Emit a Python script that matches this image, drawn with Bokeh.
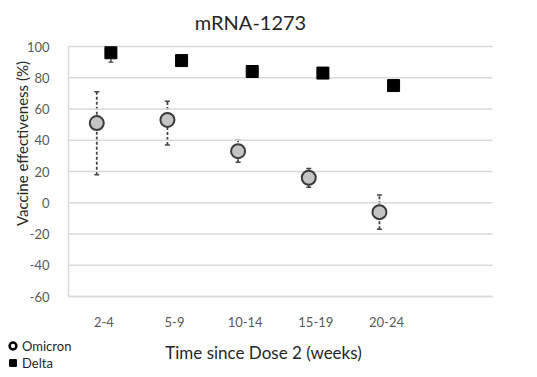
import math
from bokeh.plotting import figure
from bokeh.models import (ColumnDataSource, Whisker, TeeHead, FixedTicker, Range1d,
                          Legend, LegendItem, Label)
from bokeh.embed import file_html
from bokeh.resources import INLINE

categories = ["2-4", "5-9", "10-14", "15-19", "20-24"]
omicron_ve = [51, 53, 33, 16, -6]
omicron_lo = [18, 37, 26, 10, -17]
omicron_hi = [71, 65, 40, 22, 5]
delta_ve = [96, 91, 84, 83, 75]
delta_lo = [90, 89, 82, 81, 73]
delta_hi = [98, 93, 85, 84, 77]
y_ticks = [-60, -40, -20, 0, 20, 40, 60, 80, 100]

# ---- layout (pixels) ----
W, H = 537, 377
PL, PR, PT, PB = 68, 492, 46, 296          # plot-area box inside the canvas
X_MIN, X_MAX = -0.5, 5.5                   # 6 category slots (last one empty)
Y_MIN, Y_MAX = -60, 100
xs = (X_MAX - X_MIN) / (PR - PL)
ys = (Y_MAX - Y_MIN) / (PB - PT)

def px_x(px):
    return X_MIN + (px - PL) * xs

def px_y(py):
    return Y_MAX - (py - PT) * ys

OMI_OFF = -0.1
DEL_OFF = 0.1
idx = list(range(len(categories)))

src_o = ColumnDataSource(dict(x=[i + OMI_OFF for i in idx], y=omicron_ve,
                              lo=omicron_lo, hi=omicron_hi))
src_d = ColumnDataSource(dict(x=[i + DEL_OFF for i in idx], y=delta_ve,
                              lo=delta_lo, hi=delta_hi))
src_g = ColumnDataSource(dict(y=y_ticks, x0=[X_MIN] * len(y_ticks),
                              x1=[X_MAX] * len(y_ticks)))

FONT = "Lato"
GRAY = "#595959"
DARK = "#262626"
GRID = "#d9d9d9"
BAR = "#454545"

p = figure(width=W, height=H, output_backend="svg", toolbar_location=None,
           x_range=Range1d(px_x(0), px_x(W)), y_range=Range1d(px_y(H), px_y(0)),
           min_border=0)
p.outline_line_color = None
p.background_fill_color = "white"
p.xgrid.grid_line_color = None
p.ygrid.grid_line_color = None

# horizontal gridlines restricted to the plot area
p.segment(x0="x0", x1="x1", y0="y", y1="y", source=src_g,
          line_color=GRID, line_width=1.5)

# axes, pinned to the plot-area box
p.xaxis.fixed_location = Y_MIN
p.xaxis.bounds = (X_MIN, X_MAX)
p.xaxis.ticker = FixedTicker(ticks=idx)
p.xaxis.major_label_overrides = {i: c for i, c in zip(idx, categories)}
p.yaxis.fixed_location = X_MIN
p.yaxis.bounds = (Y_MIN, Y_MAX)
p.yaxis.ticker = FixedTicker(ticks=y_ticks)
p.yaxis.major_label_overrides = {v: str(v) for v in y_ticks}
for ax in (p.xaxis[0], p.yaxis[0]):
    ax.axis_line_color = GRID
    ax.axis_line_width = 1.5
    ax.major_tick_line_color = None
    ax.minor_tick_line_color = None
    ax.major_label_text_font = FONT
    ax.major_label_text_font_size = "13px"
    ax.major_label_text_color = GRAY
p.xaxis.major_label_standoff = 14
p.yaxis.major_label_standoff = 13

# texts
p.add_layout(Label(x=px_x(250), y=px_y(21), text="mRNA-1273",
                   text_align="center", text_baseline="middle",
                   text_font=FONT, text_font_size="20px", text_color=DARK))
p.add_layout(Label(x=px_x(263), y=px_y(352), text="Time since Dose 2 (weeks)",
                   text_align="center", text_baseline="middle",
                   text_font=FONT, text_font_size="17px", text_color=DARK))
p.add_layout(Label(x=px_x(21), y=px_y(143), text="Vaccine effectiveness (%)",
                   angle=math.pi / 2, text_align="center", text_baseline="middle",
                   text_font=FONT, text_font_size="15px", text_color=DARK))

# error bars
w_o = Whisker(source=src_o, base="x", lower="lo", upper="hi", dimension="height",
              line_color=BAR, line_width=1.8, line_dash="3 2",
              upper_head=TeeHead(size=5, line_color=BAR, line_width=1.5),
              lower_head=TeeHead(size=5, line_color=BAR, line_width=1.5))
p.add_layout(w_o)
w_d = Whisker(source=src_d, base="x", lower="lo", upper="hi", dimension="height",
              line_color=BAR, line_width=1.5, line_dash="3 2",
              upper_head=TeeHead(size=5, line_color=BAR, line_width=1.2),
              lower_head=TeeHead(size=5, line_color=BAR, line_width=1.2))
p.add_layout(w_d)

p.scatter("x", "y", source=src_o, marker="circle", size=14,
          fill_color="#c4c4c4", line_color="#3a3a3a", line_width=2)
p.scatter("x", "y", source=src_d, marker="square", size=12,
          fill_color="black", line_color="black")

# legend swatches (a single undrawn NaN point each, used only for the legend)
nan = float("nan")
lo = p.scatter(x=[nan], y=[nan], marker="circle", size=10, fill_color="white",
               line_color="black", line_width=2.5)
ld = p.scatter(x=[nan], y=[nan], marker="square", size=10, fill_color="black",
               line_color="black")
legend = Legend(items=[LegendItem(label="Omicron", renderers=[lo]),
                       LegendItem(label="Delta", renderers=[ld])],
                location=(4, 6), orientation="vertical",
                background_fill_alpha=0, border_line_alpha=0,
                padding=0, spacing=0, margin=0,
                label_text_font=FONT, label_text_font_size="13px",
                label_text_color=DARK, label_height=17,
                glyph_width=17, glyph_height=17, label_standoff=1)
p.add_layout(legend)

open("out.html", "w").write(file_html(p, INLINE))
